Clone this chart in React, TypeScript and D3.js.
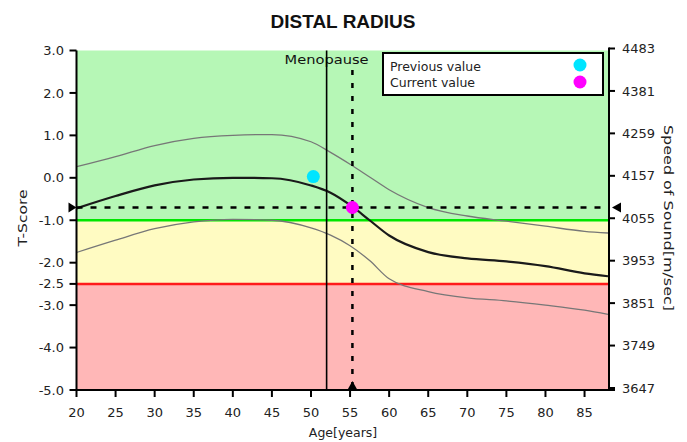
import React from "react";
import * as d3 from "d3";

const W = 687;
const H = 442;

// reference curve (T-score vs age)
const AGES = [20, 25, 30, 35, 40, 45, 50, 52.5, 55, 57.5, 60, 65, 70, 75, 80, 85, 88];
const MEAN = [-0.72, -0.43, -0.18, -0.04, 0.0, -0.01, -0.18, -0.35, -0.64, -1.0, -1.36, -1.75, -1.9, -1.97, -2.08, -2.25, -2.32];
const UPPER = [0.26, 0.5, 0.76, 0.93, 1.0, 1.02, 0.85, 0.6, 0.32, 0.02, -0.28, -0.7, -0.9, -1.02, -1.14, -1.26, -1.3];
const LOWER = [-1.76, -1.47, -1.2, -1.04, -0.98, -1.0, -1.18, -1.35, -1.6, -1.95, -2.38, -2.68, -2.83, -2.9, -3.0, -3.12, -3.22];

const X_TICKS = [20, 25, 30, 35, 40, 45, 50, 55, 60, 65, 70, 75, 80, 85];
const T_TICKS = [3, 2, 1, 0, -1, -2, -2.5, -3, -4, -5];
const SOS_TICKS = [3, 2, 1, 0, -1, -2, -3, -4, -5];
const SOS_LABELS = ["4483", "4381", "4259", "4157", "4055", "3953", "3851", "3749", "3647"];

const MENOPAUSE_AGE = 52;
const PREVIOUS = { age: 50.3, t: 0.03 };
const CURRENT = { age: 55.3, t: -0.7 };

const FONT = "'DejaVu Sans', sans-serif";

export default function App() {
  const x = d3.scaleLinear().domain([20, 88]).range([76.5, 608]);
  const y = d3.scaleLinear().domain([-5, 3]).range([390, 50.5]);

  const line = (vals: number[]) =>
    d3
      .line<number>()
      .x((_, i) => x(AGES[i]))
      .y((d) => y(d))
      .curve(d3.curveMonotoneX)(vals) || "";

  const x0 = x(20), x1 = x(88);
  const cx = x(CURRENT.age), cy = y(CURRENT.t);

  return (
    <svg width={W} height={H} style={{ position: "absolute", left: 0, top: 0 }} fontFamily={FONT}>
      <rect width={W} height={H} fill="#fff" />
      <text x={343} y={28} textAnchor="middle" fontFamily="'Liberation Sans', Arial, sans-serif" fontWeight="bold" fontSize={19} fill="#111">
        DISTAL RADIUS
      </text>

      {/* zones */}
      <rect x={x0} y={y(3)} width={x1 - x0} height={y(-1) - y(3)} fill="#b6f7b6" />
      <rect x={x0} y={y(-1)} width={x1 - x0} height={y(-2.5) - y(-1)} fill="#fffbc2" />
      <rect x={x0} y={y(-2.5)} width={x1 - x0} height={y(-5) - y(-2.5)} fill="#ffb7b7" />
      <line x1={x0} x2={x1} y1={y(-1)} y2={y(-1)} stroke="#00e600" strokeWidth={2.5} />
      <line x1={x0} x2={x1} y1={y(-2.5)} y2={y(-2.5)} stroke="#ff1a1a" strokeWidth={2.5} />

      {/* curves */}
      <path d={line(UPPER)} fill="none" stroke="#777" strokeWidth={1.3} />
      <path d={line(LOWER)} fill="none" stroke="#777" strokeWidth={1.3} />
      <path d={line(MEAN)} fill="none" stroke="#1a1a1a" strokeWidth={2.2} />

      {/* menopause */}
      <text x={x(MENOPAUSE_AGE)} y={64} textAnchor="middle" fontSize={12.5} fill="#111" textLength={84} lengthAdjust="spacingAndGlyphs">Menopause</text>
      <line x1={x(MENOPAUSE_AGE)} x2={x(MENOPAUSE_AGE)} y1={y(3)} y2={y(-5)} stroke="#000" strokeWidth={1.6} />

      {/* current value crosshair */}
      <line x1={x0} x2={x1} y1={cy} y2={cy} stroke="#000" strokeWidth={2.5} strokeDasharray="6,8" />
      <line x1={cx} x2={cx} y1={70} y2={y(-5)} stroke="#000" strokeWidth={2.5} strokeDasharray="5,8" />
      <circle cx={x(PREVIOUS.age)} cy={y(PREVIOUS.t)} r={6.5} fill="#00e5ff" />
      <circle cx={cx} cy={cy} r={6.5} fill="#ff00ff" />
      <path d={`M${x0 - 8},${cy - 5}L${x0},${cy}L${x0 - 8},${cy + 5}Z`} fill="#000" />
      <path d={`M${x1 + 13},${cy - 5}L${x1 + 4},${cy}L${x1 + 13},${cy + 5}Z`} fill="#000" />
      <path d={`M${cx - 5},${y(-5)}L${cx},${y(-5) - 9}L${cx + 5},${y(-5)}Z`} fill="#000" />

      {/* legend */}
      <rect x={383} y={53} width={220} height={42} fill="#fff" stroke="#000" strokeWidth={2} />
      <text x={390} y={71} fontSize={12.5} fill="#222">Previous value</text>
      <text x={390} y={87} fontSize={12.5} fill="#222">Current value</text>
      <circle cx={580} cy={65} r={6.5} fill="#00e5ff" />
      <circle cx={580} cy={82} r={6.5} fill="#ff00ff" />

      {/* left axis */}
      <line x1={x0} x2={x0} y1={y(3)} y2={y(-5) + 1} stroke="#000" strokeWidth={2} />
      {T_TICKS.map((t) => (
        <g key={t} transform={`translate(0,${y(t)})`}>
          <line x1={x0 - 7} x2={x0} stroke="#000" strokeWidth={2} />
          <text x={64} dy="0.35em" textAnchor="end" fontSize={13} fill="#222">{t.toFixed(1)}</text>
        </g>
      ))}
      <text transform={`translate(27,218) rotate(-90)`} textAnchor="middle" fontSize={12} fill="#222" textLength={57} lengthAdjust="spacingAndGlyphs">T-Score</text>

      {/* right axis */}
      <line x1={x1 + 1} x2={x1 + 1} y1={y(3) - 3} y2={y(-5) + 1} stroke="#000" strokeWidth={2} />
      {SOS_TICKS.map((t, i) => (
        <g key={t} transform={`translate(0,${y(t) - 2})`}>
          <line x1={x1 + 1} x2={x1 + 7} stroke="#000" strokeWidth={2} />
          <text x={622} dy="0.35em" fontSize={13} fill="#222">{SOS_LABELS[i]}</text>
        </g>
      ))}
      <text transform={`translate(664,218) rotate(90)`} textAnchor="middle" fontSize={12.5} fill="#222" textLength={186} lengthAdjust="spacingAndGlyphs">
        Speed of Sound[m/sec]
      </text>

      {/* bottom axis */}
      <line x1={x0 - 1} x2={x1 + 7} y1={y(-5)} y2={y(-5)} stroke="#000" strokeWidth={2} />
      {X_TICKS.map((a) => (
        <g key={a} transform={`translate(${x(a)},0)`}>
          <line y1={y(-5)} y2={y(-5) + 7} stroke="#000" strokeWidth={2} />
          <text y={417} textAnchor="middle" fontSize={13} fill="#222">{a}</text>
        </g>
      ))}
      <text x={343} y={437} textAnchor="middle" fontSize={12.5} fill="#222">Age[years]</text>
    </svg>
  );
}
